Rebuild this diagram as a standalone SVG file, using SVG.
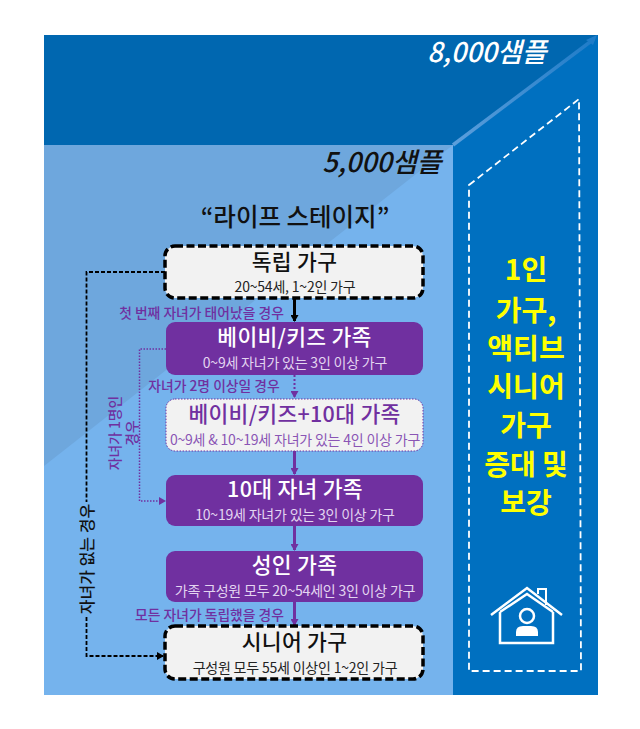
<svg xmlns="http://www.w3.org/2000/svg" width="640" height="729" viewBox="0 0 640 729">
<style>
text{font-family:"Noto Sans CJK KR","Noto Sans",sans-serif;text-anchor:middle}
.t{font-size:21.5px;font-weight:500;letter-spacing:.3px}
.s{font-size:14px;letter-spacing:-.2px;font-weight:400}
.w{fill:#fff}.ws{fill:#E3D5F0}.k{fill:#111}.ks{fill:#222}.p{fill:#7030A0}
.l{font-size:13.8px;font-weight:500;fill:#7030A0}
.b{fill:#7030A0}
.d{fill:#F2F2F2;stroke:#000;stroke-width:3.5;stroke-dasharray:8 3.5}
.y{font-size:28px;font-weight:700;fill:#FFFF00}
</style>
<defs>
<linearGradient id="diag" gradientUnits="userSpaceOnUse" x1="453" y1="145" x2="594" y2="39"><stop offset="0" stop-color="#5C9FDC"/><stop offset="1" stop-color="#1F7CC8"/></linearGradient>
<marker id="ak" markerWidth="8" markerHeight="8" refX="6" refY="4" orient="auto" markerUnits="userSpaceOnUse"><path d="M0 0L7 4L0 8Z" fill="#000"/></marker>
<marker id="ap" markerWidth="8" markerHeight="8" refX="6" refY="4" orient="auto" markerUnits="userSpaceOnUse"><path d="M0 0L7 4L0 8Z" fill="#7030A0"/></marker>
</defs>
<g id="background">
<rect x="44" y="35" width="554" height="660" fill="#0070C0"/>
<path d="M44 35H598L453 145H44Z" fill="#0067B0"/>
<rect x="44" y="145" width="409" height="550" fill="#75B3ED"/>
<path d="M44 145H453L44 466Z" fill="#6EA7DD"/>
<path d="M453 145L594 39" stroke="url(#diag)" stroke-width="3.500" fill="none"/>
<path d="M597 35L586 40L593 45Z" fill="#1F7CC8"/>
<path d="M469 185L579 99L581 671H469Z" fill="none" stroke="#fff" stroke-width="1.800" stroke-dasharray="7 4"/>
</g>
<g id="headings">
<text x="487" y="62" font-size="27" font-weight="500" font-style="italic" class="w">8,000샘플</text>
<text x="382" y="172" font-size="27" font-weight="500" font-style="italic" fill="#111">5,000샘플</text>
<text x="295" y="226" font-size="24.500" font-weight="500" fill="#111">“라이프 스테이지”</text>
</g>
<g id="connectors" fill="none">
<path d="M165 272H86.500V502M86.500 617V656H163" stroke="#000" stroke-width="1.800" stroke-dasharray="4 2" marker-end="url(#ak)"/>
<path d="M294.500 298V321" stroke="#000" stroke-width="3" marker-end="url(#ak)"/>
<path d="M166 349H139.500V501H165" stroke="#7030A0" stroke-width="1.500" stroke-dasharray="1.500 1.500" marker-end="url(#ap)"/>
<path d="M294.500 375V397" stroke="#7030A0" stroke-width="2" stroke-dasharray="2 2" marker-end="url(#ap)"/>
<path d="M294.500 451V474" stroke="#7030A0" stroke-width="3" marker-end="url(#ap)"/>
<path d="M294.500 526V550" stroke="#7030A0" stroke-width="3" marker-end="url(#ap)"/>
<path d="M294.500 602V625" stroke="#7030A0" stroke-width="3" marker-end="url(#ap)"/>
</g>
<g id="connector-labels">
<text x="201.500" y="318" class="l">첫 번째 자녀가 태어났을 경우</text>
<text x="214" y="391" class="l">자녀가 2명 이상일 경우</text>
<text x="209.500" y="620" class="l">모든 자녀가 독립했을 경우</text>
<text class="l" transform="translate(120 433) rotate(-90)">자녀가 1명인</text>
<text class="l" transform="translate(137 433) rotate(-90)">경우</text>
<text font-size="16" font-weight="500" fill="#111" transform="translate(92.500 559) rotate(-90)">자녀가 없는 경우</text>
</g>
<g id="node-independent">
<rect x="165" y="246" width="258" height="52" rx="10" class="d"/>
<text x="294.500" y="269.500" class="t k">독립 가구</text>
<text x="295" y="292.100" class="s ks">20~54세, 1~2인 가구</text>
</g>
<g id="node-baby">
<rect x="166" y="322" width="257" height="53" rx="9" class="b"/>
<text x="294.500" y="345" class="t w">베이비/키즈 가족</text>
<text x="295" y="367.600" class="s ws">0~9세 자녀가 있는 3인 이상 가구</text>
</g>
<g id="node-baby-teen">
<rect x="166" y="399" width="257" height="52" rx="9" fill="#F2F2F2" stroke="#7030A0" stroke-dasharray="1.500 1.500"/>
<text x="294.500" y="422" class="t p">베이비/키즈+10대 가족</text>
<text x="295" y="444.600" class="s" fill="#8A55B5">0~9세 &amp; 10~19세 자녀가 있는 4인 이상 가구</text>
</g>
<g id="node-teen">
<rect x="166" y="475" width="257" height="51" rx="9" class="b"/>
<text x="295" y="497" class="t w">10대 자녀 가족</text>
<text x="295" y="519.600" class="s ws">10~19세 자녀가 있는 3인 이상 가구</text>
</g>
<g id="node-adult">
<rect x="166" y="551" width="257" height="51" rx="9" class="b"/>
<text x="294.500" y="573" class="t w">성인 가족</text>
<text x="295" y="595.600" class="s ws">가족 구성원 모두 20~54세인 3인 이상 가구</text>
</g>
<g id="node-senior">
<rect x="165" y="626" width="258" height="53" rx="10" class="d"/>
<text x="294.500" y="650" class="t k">시니어 가구</text>
<text x="295" y="672.600" class="s ks">구성원 모두 55세 이상인 1~2인 가구</text>
</g>
<g id="callout">
<text x="526" y="280" class="y">1인</text>
<text x="526" y="321" class="y">가구,</text>
<text x="526" y="359" class="y">액티브</text>
<text x="526" y="397" class="y">시니어</text>
<text x="526" y="436" class="y">가구</text>
<text x="526" y="475" class="y">증대 및</text>
<text x="526" y="513" class="y">보강</text>
</g>
<g id="house-icon" fill="none" stroke="#fff" stroke-width="2.500">
<path d="M491 615L527 588L562 615"/>
<path d="M500 612V643H553V612M500 612L527 594L553 612"/>
<path d="M538 594V589H546V605" stroke-width="2"/>
<circle cx="527" cy="616" r="7"/>
<path d="M516 636V632Q516 626 523 626H531Q538 626 538 632V636Z" fill="#fff" stroke="none"/>
</g>
</svg>
